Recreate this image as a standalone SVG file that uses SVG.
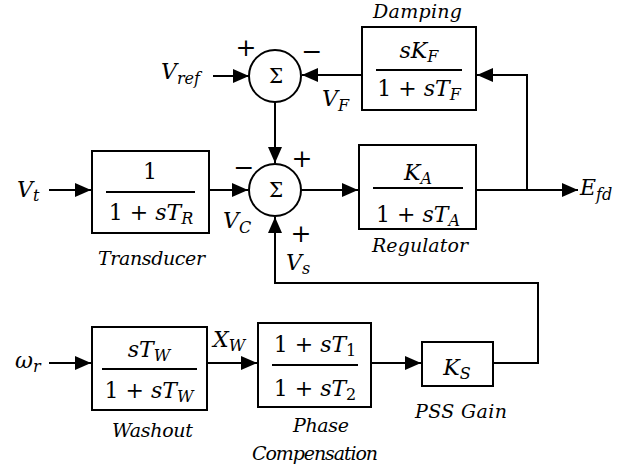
<svg xmlns="http://www.w3.org/2000/svg" width="642" height="474" viewBox="0 0 642 474">
<style>
.b{fill:#fff;stroke:#000;stroke-width:2}
.w{fill:none;stroke:#000;stroke-width:2}
text{fill:#000;font-family:'DejaVu Serif',serif}
.m{font-style:italic;font-size:22px}
.c{text-anchor:middle}
.n{font-style:normal}
.s{font-size:16px}
.l{font-style:italic;font-size:19px}
.p{font-size:25px;text-anchor:middle}
.g{font-size:20px;text-anchor:middle}
</style>
<defs>
<marker id="a" markerUnits="userSpaceOnUse" markerWidth="16" markerHeight="14" refX="16" refY="7" orient="auto" viewBox="0 0 16 14">
<path d="M0,0 L16,7 L0,14 z" fill="#000"/>
</marker>
</defs>
<g id="connectors" class="w" marker-end="url(#a)">
<line x1="213" y1="76" x2="249" y2="76"/>
<line x1="362" y1="75" x2="302" y2="75"/>
<polyline points="476,190 527,190 527,75 477,75"/>
<line x1="275" y1="102" x2="275" y2="163"/>
<line x1="49" y1="190" x2="91" y2="190"/>
<line x1="209" y1="190" x2="248" y2="190"/>
<line x1="301" y1="190" x2="358" y2="190"/>
<line x1="476" y1="190" x2="578" y2="190"/>
<line x1="49" y1="363" x2="91" y2="363"/>
<line x1="207" y1="363" x2="257" y2="363"/>
<line x1="371" y1="363" x2="421" y2="363"/>
<polyline points="493,363 538,363 538,283 275,283 275,217"/>
</g>
<g id="sum1">
<circle class="b" cx="275" cy="76" r="26"/>
<text class="g" x="276" y="83">Σ</text>
<text class="p" x="246" y="56">+</text>
<text class="p" x="312" y="60">−</text>
</g>
<g id="sum2">
<circle class="b" cx="275" cy="190" r="26"/>
<text class="g" x="276" y="197">Σ</text>
<text class="p" x="244" y="176">−</text>
<text class="p" x="302" y="167">+</text>
<text class="p" x="301" y="242">+</text>
</g>
<g id="vref"><text class="m" x="161" y="79">V<tspan class="s" dy="5">ref</tspan></text></g>
<g id="vf"><text class="m" x="322" y="106">V<tspan class="s" dy="5">F</tspan></text></g>
<g id="vt"><text class="m" x="17" y="197">V<tspan class="s" dy="4">t</tspan></text></g>
<g id="vc"><text class="m" x="223" y="228">V<tspan class="s" dy="5">C</tspan></text></g>
<g id="vs"><text class="m" x="286" y="270">V<tspan class="s" dy="4">s</tspan></text></g>
<g id="efd"><text class="m" x="580" y="195">E<tspan class="s" dy="5">fd</tspan></text></g>
<g id="wr"><text class="m" x="15" y="368">ω<tspan class="s" dy="4">r</tspan></text></g>
<g id="xw"><text class="m" x="213" y="347">X<tspan class="s" dy="4">W</tspan></text></g>
<g id="damping">
<rect class="b" x="362" y="27" width="114" height="83"/>
<text class="l" x="373" y="18" textLength="89">Damping</text>
<text class="m c" x="419" y="58">sK<tspan class="s" dy="4">F</tspan></text>
<line class="w" x1="376" y1="70" x2="462" y2="70"/>
<text class="m c" x="419" y="96"><tspan class="n">1 + </tspan>sT<tspan class="s" dy="4">F</tspan></text>
</g>
<g id="transducer">
<rect class="b" x="92" y="151" width="117" height="82"/>
<text class="m n c" x="150" y="179">1</text>
<line class="w" x1="106" y1="192" x2="195" y2="192"/>
<text class="m c" x="151" y="220"><tspan class="n">1 + </tspan>sT<tspan class="s" dy="4">R</tspan></text>
<text class="l" x="98" y="265" textLength="107">Transducer</text>
</g>
<g id="regulator">
<rect class="b" x="359" y="145" width="117" height="84"/>
<text class="m c" x="418" y="180">K<tspan class="s" dy="4">A</tspan></text>
<line class="w" x1="373" y1="188" x2="463" y2="188"/>
<text class="m c" x="418" y="222"><tspan class="n">1 + </tspan>sT<tspan class="s" dy="4">A</tspan></text>
<text class="l" x="372" y="252" textLength="96">Regulator</text>
</g>
<g id="washout">
<rect class="b" x="92" y="327" width="115" height="83"/>
<text class="m c" x="149" y="357">sT<tspan class="s" dy="4">W</tspan></text>
<line class="w" x1="102" y1="369" x2="197" y2="369"/>
<text class="m c" x="149" y="398"><tspan class="n">1 + </tspan>sT<tspan class="s" dy="4">W</tspan></text>
<text class="l" x="112" y="437" textLength="81">Washout</text>
</g>
<g id="phase">
<rect class="b" x="258" y="323" width="113" height="84"/>
<text class="m c" x="315" y="352"><tspan class="n">1 + </tspan>sT<tspan class="s n" dy="4">1</tspan></text>
<line class="w" x1="272" y1="365" x2="358" y2="365"/>
<text class="m c" x="315" y="396"><tspan class="n">1 + </tspan>sT<tspan class="s n" dy="4">2</tspan></text>
<text class="l" x="293" y="432" textLength="56">Phase</text>
<text class="l" x="252" y="460" textLength="126">Compensation</text>
</g>
<g id="pss">
<rect class="b" x="422" y="342" width="71" height="44"/>
<text class="m c" x="457" y="375">K<tspan class="s" dy="4">S</tspan></text>
<text class="l" x="415" y="418" textLength="92">PSS Gain</text>
</g>
</svg>
